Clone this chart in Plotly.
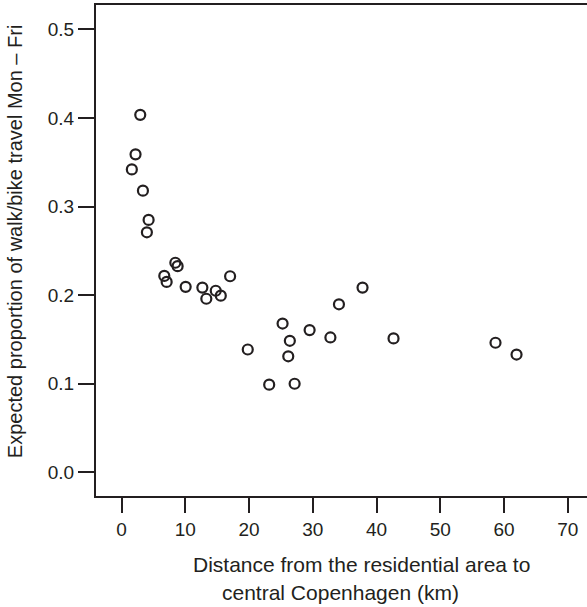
import plotly.graph_objects as go

# Data
distance_km = [2.94, 2.2, 1.62, 3.36, 4.25, 3.98, 8.44, 8.8, 6.71, 7.08,
               10.06, 12.68, 13.3, 14.78, 15.57, 17.03, 25.26,
               19.8, 26.4, 26.15, 23.16, 27.15, 29.5, 32.76, 34.1, 37.8,
               42.66, 58.65, 61.95]
walk_bike_prop = [0.4036, 0.359, 0.342, 0.318, 0.285, 0.271, 0.2366, 0.2328, 0.2218, 0.215,
                  0.2094, 0.2086, 0.196, 0.205, 0.1995, 0.2214, 0.168,
                  0.1387, 0.1485, 0.131, 0.099, 0.100, 0.1606, 0.1523, 0.1897, 0.2086,
                  0.1512, 0.1463, 0.133]

x_ticks = [0, 10, 20, 30, 40, 50, 60, 70]
y_ticks = [0.0, 0.1, 0.2, 0.3, 0.4, 0.5]
y_tick_labels = ["0.0", "0.1", "0.2", "0.3", "0.4", "0.5"]

ink = "#231f20"
font_family = "Liberation Sans, Arial, Helvetica, sans-serif"
fs = 19

fig = go.Figure()
fig.add_trace(go.Scatter(
    x=distance_km, y=walk_bike_prop, mode="markers",
    marker=dict(symbol="circle-open", size=10, color=ink, line=dict(width=2.2, color=ink)),
    showlegend=False, hoverinfo="x+y",
))

fig.update_layout(
    template="none",
    width=587, height=607,
    margin=dict(l=96, r=0, t=5, b=111, autoexpand=False),
    paper_bgcolor="white", plot_bgcolor="white",
    font=dict(family=font_family, size=fs, color=ink),
    xaxis=dict(range=[-4.0, 73.0], tickvals=x_ticks, ticktext=[str(v) for v in x_ticks],
               showline=True, linewidth=2, linecolor=ink, mirror=True, automargin=False,
               ticks="outside", ticklen=15, tickwidth=2, tickcolor=ink,
               showgrid=False, zeroline=False,
               tickfont=dict(size=fs, color=ink, family=font_family)),
    yaxis=dict(range=[-0.0267, 0.5276], tickvals=y_ticks, ticktext=y_tick_labels,
               showline=True, linewidth=2, linecolor=ink, automargin=False,
               ticks="outside", ticklen=16, tickwidth=2, tickcolor=ink,
               showgrid=False, zeroline=False,
               tickfont=dict(size=fs, color=ink, family=font_family)),
    annotations=[
        dict(text="Distance from the residential area to", xref="paper", yref="paper",
             x=0.541, y=0, yshift=-68, xanchor="center", yanchor="middle", showarrow=False,
             font=dict(size=21, color=ink, family=font_family)),
        dict(text="central Copenhagen (km)", xref="paper", yref="paper",
             x=0.4986, y=0, yshift=-96, xanchor="center", yanchor="middle", showarrow=False,
             font=dict(size=21, color=ink, family=font_family)),
        dict(text="Expected proportion of walk/bike travel Mon \u2013 Fri", xref="paper", yref="paper",
             x=0, xshift=-81, y=0.519, xanchor="center", yanchor="middle", textangle=-90,
             showarrow=False, font=dict(size=20, color=ink, family=font_family)),
    ],
)

fig.write_html("out.html", config={"displayModeBar": False},
               post_script="document.body.style.margin='0';document.body.style.overflow='hidden';")
